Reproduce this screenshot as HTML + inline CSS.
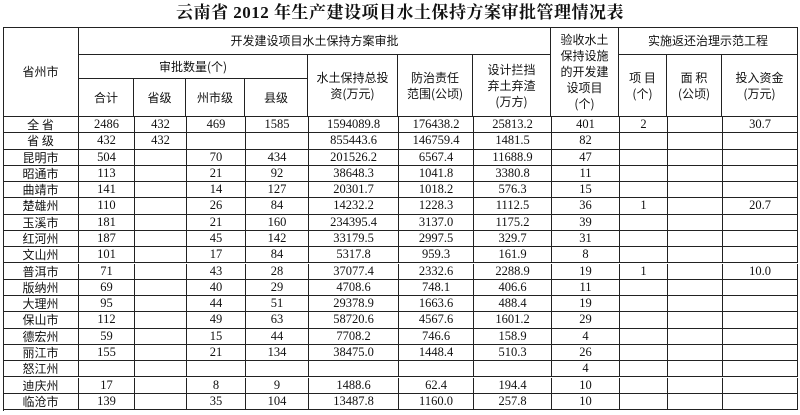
<!DOCTYPE html>
<html><head><meta charset="utf-8"><style>
*{box-sizing:border-box}
body{margin:0;width:800px;height:415px;background:#fff;overflow:hidden;position:relative;font-family:"Liberation Serif","Noto Sans CJK SC",serif;color:#111}
.t{position:absolute;left:0;top:2px;width:800px;text-align:center;font:bold 17px/22px "Liberation Serif","Noto Serif CJK SC",serif;letter-spacing:0.5px}
.f{position:absolute;left:3px;top:27px;width:795px;height:384px;border-left:1px solid #222;border-top:1px solid #222}
.h{position:absolute;border-right:1px solid #222;border-bottom:1px solid #222;display:flex;align-items:center;justify-content:center;text-align:center;font-family:"Noto Sans CJK SC",sans-serif;font-size:12px;line-height:16px}
.r{position:absolute;left:3px;width:795px;height:16.3px;display:grid;grid-template-columns:76px 56px 52px 59px 63px 90px 75px 78px 68px 48px 55px 75px}
.r>div{border-right:1px solid #222;border-bottom:1px solid #222;text-align:center;font-size:12.5px;line-height:15px;overflow:hidden;white-space:nowrap}
.r>div:first-child{font-family:"Noto Sans CJK SC",sans-serif;font-size:12px}
</style></head><body>
<div class="t">云南省 2012 年生产建设项目水土保持方案审批管理情况表</div>
<div class="f"></div>
<div class="h" style="left:3px;top:27px;width:76px;height:90px">省州市</div>
<div class="h" style="left:79px;top:27px;width:472px;height:28px">开发建设项目水土保持方案审批</div>
<div class="h" style="left:551px;top:27px;width:68px;height:90px">验收水土<br>保持设施<br>的开发建<br>设项目<br>(个)</div>
<div class="h" style="left:619px;top:27px;width:179px;height:28px">实施返还治理示范工程</div>
<div class="h" style="left:79px;top:55px;width:229px;height:24px">审批数量(个)</div>
<div class="h" style="left:79px;top:79px;width:55px;height:38px">合计</div>
<div class="h" style="left:134px;top:79px;width:52px;height:38px">省级</div>
<div class="h" style="left:186px;top:79px;width:59px;height:38px">州市级</div>
<div class="h" style="left:245px;top:79px;width:63px;height:38px">县级</div>
<div class="h" style="left:308px;top:55px;width:90px;height:62px">水土保持总投<br>资(万元)</div>
<div class="h" style="left:398px;top:55px;width:75px;height:62px">防治责任<br>范围(公顷)</div>
<div class="h" style="left:473px;top:55px;width:78px;height:62px">设计拦挡<br>弃土弃渣<br>(万方)</div>
<div class="h" style="left:619px;top:55px;width:48px;height:62px">项 目<br>(个)</div>
<div class="h" style="left:667px;top:55px;width:55px;height:62px">面 积<br>(公顷)</div>
<div class="h" style="left:722px;top:55px;width:76px;height:62px">投入资金<br>(万元)</div>

<div class="r" style="top:117px"><div>全 省</div><div>2486</div><div>432</div><div>469</div><div>1585</div><div>1594089.8</div><div>176438.2</div><div>25813.2</div><div>401</div><div>2</div><div></div><div>30.7</div></div>
<div class="r" style="top:133.3px"><div>省 级</div><div>432</div><div>432</div><div></div><div></div><div>855443.6</div><div>146759.4</div><div>1481.5</div><div>82</div><div></div><div></div><div></div></div>
<div class="r" style="top:149.6px"><div>昆明市</div><div>504</div><div></div><div>70</div><div>434</div><div>201526.2</div><div>6567.4</div><div>11688.9</div><div>47</div><div></div><div></div><div></div></div>
<div class="r" style="top:165.8px"><div>昭通市</div><div>113</div><div></div><div>21</div><div>92</div><div>38648.3</div><div>1041.8</div><div>3380.8</div><div>11</div><div></div><div></div><div></div></div>
<div class="r" style="top:182.1px"><div>曲靖市</div><div>141</div><div></div><div>14</div><div>127</div><div>20301.7</div><div>1018.2</div><div>576.3</div><div>15</div><div></div><div></div><div></div></div>
<div class="r" style="top:198.4px"><div>楚雄州</div><div>110</div><div></div><div>26</div><div>84</div><div>14232.2</div><div>1228.3</div><div>1112.5</div><div>36</div><div>1</div><div></div><div>20.7</div></div>
<div class="r" style="top:214.7px"><div>玉溪市</div><div>181</div><div></div><div>21</div><div>160</div><div>234395.4</div><div>3137.0</div><div>1175.2</div><div>39</div><div></div><div></div><div></div></div>
<div class="r" style="top:231px"><div>红河州</div><div>187</div><div></div><div>45</div><div>142</div><div>33179.5</div><div>2997.5</div><div>329.7</div><div>31</div><div></div><div></div><div></div></div>
<div class="r" style="top:247.2px"><div>文山州</div><div>101</div><div></div><div>17</div><div>84</div><div>5317.8</div><div>959.3</div><div>161.9</div><div>8</div><div></div><div></div><div></div></div>
<div class="r" style="top:263.5px"><div>普洱市</div><div>71</div><div></div><div>43</div><div>28</div><div>37077.4</div><div>2332.6</div><div>2288.9</div><div>19</div><div>1</div><div></div><div>10.0</div></div>
<div class="r" style="top:279.8px"><div>版纳州</div><div>69</div><div></div><div>40</div><div>29</div><div>4708.6</div><div>748.1</div><div>406.6</div><div>11</div><div></div><div></div><div></div></div>
<div class="r" style="top:296.1px"><div>大理州</div><div>95</div><div></div><div>44</div><div>51</div><div>29378.9</div><div>1663.6</div><div>488.4</div><div>19</div><div></div><div></div><div></div></div>
<div class="r" style="top:312.4px"><div>保山市</div><div>112</div><div></div><div>49</div><div>63</div><div>58720.6</div><div>4567.6</div><div>1601.2</div><div>29</div><div></div><div></div><div></div></div>
<div class="r" style="top:328.6px"><div>德宏州</div><div>59</div><div></div><div>15</div><div>44</div><div>7708.2</div><div>746.6</div><div>158.9</div><div>4</div><div></div><div></div><div></div></div>
<div class="r" style="top:344.9px"><div>丽江市</div><div>155</div><div></div><div>21</div><div>134</div><div>38475.0</div><div>1448.4</div><div>510.3</div><div>26</div><div></div><div></div><div></div></div>
<div class="r" style="top:361.2px"><div>怒江州</div><div></div><div></div><div></div><div></div><div></div><div></div><div></div><div>4</div><div></div><div></div><div></div></div>
<div class="r" style="top:377.5px"><div>迪庆州</div><div>17</div><div></div><div>8</div><div>9</div><div>1488.6</div><div>62.4</div><div>194.4</div><div>10</div><div></div><div></div><div></div></div>
<div class="r" style="top:393.8px"><div>临沧市</div><div>139</div><div></div><div>35</div><div>104</div><div>13487.8</div><div>1160.0</div><div>257.8</div><div>10</div><div></div><div></div><div></div></div>
</body></html>
